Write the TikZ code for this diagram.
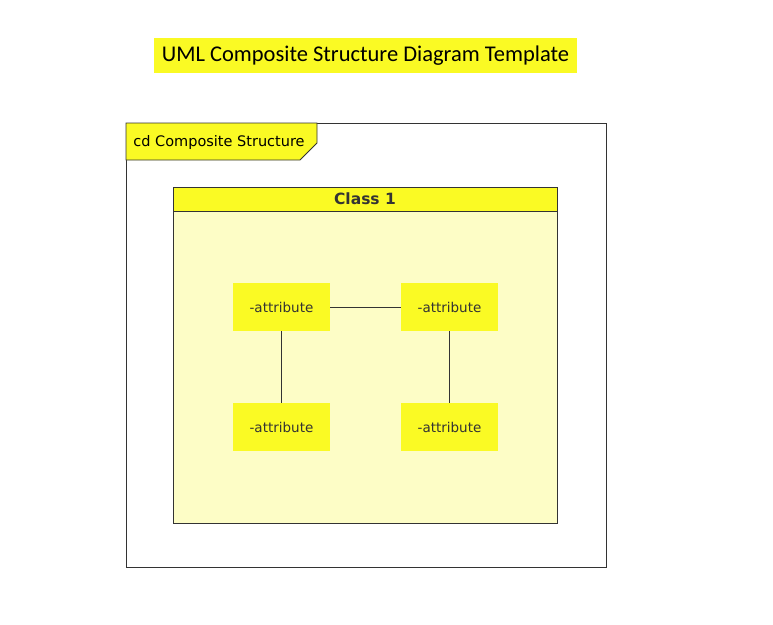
\documentclass[tikz,border=0pt]{standalone}
\usepackage{fontspec}
\setmainfont{DejaVu Sans}
\newfontfamily\titlefont{Carlito}
\usetikzlibrary{calc}

\definecolor{umlyellow}{HTML}{FAFA24}
\definecolor{umlpale}{HTML}{FDFDC6}
\definecolor{umlline}{HTML}{333333}

\begin{document}
\begin{tikzpicture}[x=1pt, y=-1pt, line width=.8pt,
    attr/.style={fill=umlyellow, minimum width=97pt, minimum height=48pt, inner sep=0pt, text=umlline, font=\fontsize{13.5}{15}\selectfont}]
    \def\Fl{126} \def\Fr{606} \def\Ft{123} \def\Fb{567}
    \def\Cl{173} \def\Cr{557} \def\Ct{187} \def\Cb{523} \def\Ch{24}
    \useasboundingbox (0, 0) rectangle (773, 624);

    % title
    \node[fill=umlyellow, minimum width=423pt, minimum height=35pt, inner sep=0pt] (title) at (365.5, 55.5)
        {\titlefont\fontsize{22.5}{26}\selectfont UML Composite Structure Diagram Template};

    % frame with its tab
    \draw[umlline] (\Fl, \Ft) rectangle (\Fr, \Fb);
    \draw[umlline, fill=umlyellow] (\Fl, \Ft) -- (317, \Ft) -- (317, 143) -- (300, 160) -- (\Fl, 160) -- cycle;
    \node[anchor=west, inner sep=0pt, font=\fontsize{14.5}{16}\selectfont] (tab) at (133, 142) {cd Composite Structure};

    % class
    \draw[umlline, fill=umlpale] (\Cl, \Ct) rectangle (\Cr, \Cb);
    \draw[umlline, fill=umlyellow] (\Cl, \Ct) rectangle (\Cr, \Ct + \Ch);
    \node[font=\fontsize{15.5}{17}\selectfont\bfseries, text=umlline] (class) at ({(\Cl + \Cr)/2}, \Ct + \Ch/2) {Class 1};

    % parts
    \node[attr] (a1) at (281.5, 307) {-attribute};
    \node[attr] (a2) at (449.5, 307) {-attribute};
    \node[attr] (a3) at (281.5, 427) {-attribute};
    \node[attr] (a4) at (449.5, 427) {-attribute};

    \draw[umlline] (a1) -- (a2);
    \draw[umlline] (a1) -- (a3);
    \draw[umlline] (a2) -- (a4);
\end{tikzpicture}
\end{document}
